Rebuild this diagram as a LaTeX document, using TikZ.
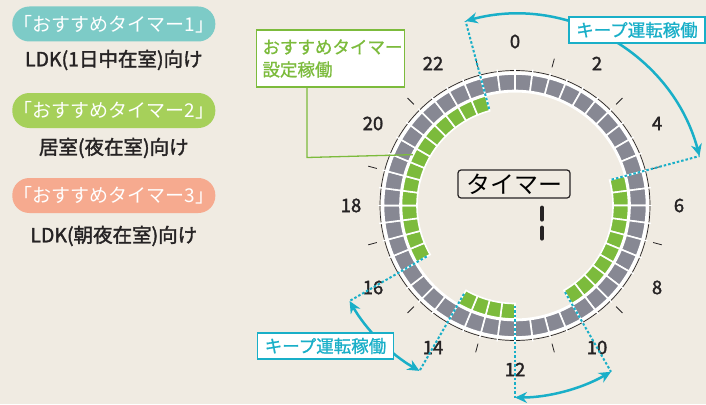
\documentclass[tikz,border=0pt]{standalone}
\usepackage{fontspec}
\setmainfont{Noto Sans CJK JP}
\newfontfamily\heavy{Noto Sans CJK JP}[FakeBold=1.8]
\newfontfamily\medium{Noto Sans CJK JP}[FakeBold=0.9]
\usetikzlibrary{calc, positioning, arrows.meta}

\definecolor{paper}{HTML}{F0EBE2}
\definecolor{slot}{HTML}{878893}
\definecolor{leaf}{HTML}{7CBB3C}
\definecolor{aqua}{HTML}{19AFC8}
\definecolor{pillA}{HTML}{7DCBC7}
\definecolor{pillB}{HTML}{A6D05A}
\definecolor{pillC}{HTML}{F6AA8F}
\definecolor{ink}{HTML}{262324}

\tikzset{
  pill/.style = {rounded corners=17pt, minimum width=203pt, minimum height=35pt, inner sep=0pt, text=white, font=\fontsize{19}{19}\selectfont},
  usage/.style = {text=ink, font=\heavy\fontsize{19.5}{19.5}\selectfont},
  hour/.style = {text=ink, font=\heavy\fontsize{18.5}{18.5}\selectfont},
  runbox/.style = {draw=aqua, line width=1.5pt, fill=white, text=aqua, minimum width=136pt, minimum height=26pt, inner sep=0pt, font=\medium\fontsize{17.5}{17.5}\selectfont},
  runarrow/.style = {draw=aqua, line width=2.5pt, {Stealth[length=12pt,width=11pt]}-{Stealth[length=12pt,width=11pt]}},
  runedge/.style = {draw=aqua, line width=2pt, dash pattern=on 2.5pt off 2pt},
  setbox/.style = {draw=leaf, line width=1.5pt, fill=white, text=leaf, align=left, text width=136pt, inner xsep=6pt, minimum height=57pt, font=\medium\fontsize{17.5}{22.5}\selectfont},
}

\begin{document}
\begin{tikzpicture} [x=1pt, y=1pt, node distance=36pt]

\useasboundingbox (0,0) rectangle (706,-404);
\fill [paper] (0,0) rectangle (706,-404);

\node [pill, fill=pillA] (timer1) at (113.8,-24) {「おすすめタイマー1」};
\node [usage] (use1) [below of = timer1] {LDK(1日中在室)向け};
\node [pill, fill=pillB] (timer2) [below of = use1, node distance=50.5pt] {「おすすめタイマー2」};
\node [usage] (use2) [below of = timer2, node distance=37.5pt] {居室(夜在室)向け};
\node [pill, fill=pillC] (timer3) [below of = use2, node distance=47.5pt] {「おすすめタイマー3」};
\node [usage] (use3) [below of = timer3, node distance=40.5pt] {LDK(朝夜在室)向け};

\coordinate (C) at (515,-205.5);

\begin{scope} [shift={(C)}]
\fill [white, even odd rule] (0,0) circle (134) (0,0) circle (113);
\draw [ink, line width=0.7pt] (0,0) circle (135);
\foreach \k [evaluate=\k as \a using 90-7.5*\k, evaluate=\k as \b using 82.5-7.5*\k] in {0,...,47} {
  \filldraw [fill=slot, draw=white, line width=1.6pt] (\a:115) arc [start angle=\a, end angle=\b, radius=115] -- (\b:131.5) arc [start angle=\b, end angle=\a, radius=131.5] -- cycle;
  \draw [white, line width=1.4pt] (\a:131) -- (\a:137);
}
\foreach \k [evaluate=\k as \a using 90-7.5*\k, evaluate=\k as \b using 82.5-7.5*\k] in {10,...,19,24,25,26,27,32,33,...,45}
  \filldraw [fill=leaf, draw=white, line width=1.6pt] (\a:98) arc [start angle=\a, end angle=\b, radius=98] -- (\b:113.5) arc [start angle=\b, end angle=\a, radius=113.5] -- cycle;
\foreach \h [evaluate=\h as \a using 90-15*\h] in {1,3,...,23}
  \draw [ink, line width=0.8pt] (\a:143) -- (\a:152);
\foreach \h [evaluate=\h as \a using 90-15*\h] in {0,2,...,22}
  \node [hour] (h\h) at (\a:164) {\h};
\end{scope}

\node [draw=ink, line width=1.2pt, rounded corners=3pt, minimum width=112pt, minimum height=28pt, inner sep=0pt, font=\fontsize{24}{24}\selectfont] (display) at (514,-184) {タイマー};
\draw [ink, line width=4pt, line cap=round] ($(display.south)+(28,-9)$) -- ($(display.south)+(28,-21)$);
\draw [ink, line width=4pt, line cap=round] ($(display.south)+(28,-29)$) -- ($(display.south)+(28,-40)$);

\node [setbox] (setting) at (330.5,-58.5) {おすすめタイマー\\設定稼働};
\coordinate (setbend) at (307,-157.5);
\coordinate (setend) at ($(C)+(153.5:114)$);
\draw [leaf, line width=1.3pt] (setting.south -| setbend) -- (setbend) -- (setend);

\coordinate (k1in) at ($(C)+(105:100)$);
\coordinate (k1out) at ($(C)+(105:191)$);
\coordinate (k2in) at ($(C)+(15:100)$);
\coordinate (k2out) at ($(C)+(15:191)$);
\coordinate (k3in) at ($(C)+(-90:100)$);
\coordinate (k3out) at ($(C)+(-90:192)$);
\coordinate (k4in) at ($(C)+(-60:100)$);
\coordinate (k4out) at ($(C)+(-60:192)$);
\coordinate (k5in) at ($(C)+(210:102)$);
\coordinate (k5out) at ($(C)+(210:191)$);
\coordinate (k6in) at ($(C)+(240:102)$);
\coordinate (k6out) at ($(C)+(240:191)$);

\path [runedge] (k1in) edge (k1out) (k2in) edge (k2out) (k3in) edge (k3out);
\path [runedge] (k4in) edge (k4out) (k5in) edge (k5out) (k6in) edge (k6out);

\draw [runarrow] (k1out) arc [start angle=105, end angle=15, radius=191];
\draw [runarrow] (k3out) arc [start angle=270, end angle=300, radius=192];
\draw [runarrow] (k5out) arc [start angle=210, end angle=240, radius=191];

\node [runbox] (run1) at (637,-30) {キープ運転稼働};
\node [runbox] (run2) at (325.5,-346) {キープ運転稼働};

\end{tikzpicture}
\end{document}
